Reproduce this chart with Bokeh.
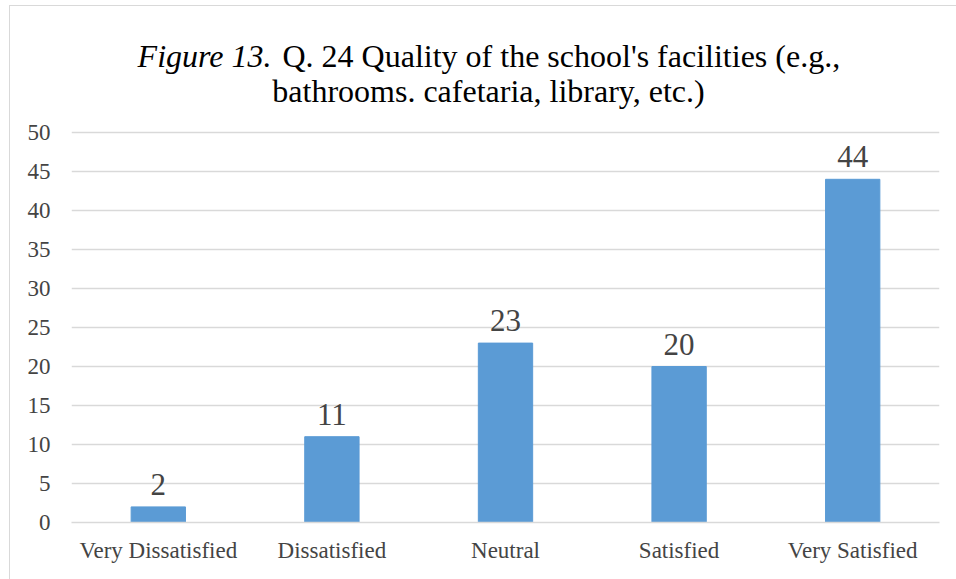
from bokeh.plotting import figure
from bokeh.layouts import column
from bokeh.models import ColumnDataSource, LabelSet, Label, FixedTicker
from bokeh.core.properties import value
from bokeh.embed import file_html
from bokeh.resources import INLINE

# Survey responses for Q. 24
categories = ["Very Dissatisfied", "Dissatisfied", "Neutral", "Satisfied", "Very Satisfied"]
counts = [2, 11, 23, 20, 44]
value_labels = [str(c) for c in counts]
y_ticks = [0, 5, 10, 15, 20, 25, 30, 35, 40, 45, 50]

TITLE_FONT = "Liberation Serif"
TEXT_FONT = "Times New Roman"
GRID = "#d9d9d9"
BAR = "#5b9bd5"

# the frame reaches the top of the canvas so the title can sit inside it;
# the value axis still spans 0..50 over the lower 390 px
FRAME_H = 516
AXIS_H = 390
y_top = y_ticks[-1] * FRAME_H / AXIS_H

source = ColumnDataSource(data=dict(cat=categories, count=counts, label=value_labels))

p = figure(
    x_range=categories,
    y_range=(0, y_top),
    width=946,
    height=573,
    output_backend="svg",
    toolbar_location=None,
    min_border_left=61,
    min_border_right=17,
    min_border_top=0,
    min_border_bottom=57,
)
p.outline_line_alpha = 0

p.vbar(x="cat", top="count", width=0.313, source=source, fill_color=BAR, line_color=BAR)

# value labels above each bar
p.add_layout(LabelSet(
    x="cat", y="count", text="label", source=source,
    y_offset=12, text_align="center",
    text_font=value(TEXT_FONT), text_font_size="31px",
))

# axes
p.yaxis.ticker = FixedTicker(ticks=y_ticks)
p.yaxis.axis_line_alpha = 0
p.yaxis.major_tick_in = 0
p.yaxis.major_tick_out = 0
p.yaxis.minor_tick_in = 0
p.yaxis.minor_tick_out = 0
p.yaxis.major_label_standoff = 21
p.yaxis.major_label_text_font = TEXT_FONT
p.yaxis.major_label_text_font_size = "23px"

p.xaxis.axis_line_color = GRID
p.xaxis.axis_line_width = 1.5
p.xaxis.major_tick_in = 0
p.xaxis.major_tick_out = 0
p.xaxis.minor_tick_in = 0
p.xaxis.minor_tick_out = 0
p.xaxis.major_label_standoff = 15
p.xaxis.major_label_text_font = TEXT_FONT
p.xaxis.major_label_text_font_size = "23px"

p.xgrid.grid_line_alpha = 0
p.ygrid.grid_line_color = GRID
p.ygrid.grid_line_width = 1.5

# two-line title with an italic figure number (screen offsets from the frame's lower-left)
p.add_layout(Label(
    x=200, y=467, x_units="screen", y_units="screen",
    text="Figure 13.", text_align="right", text_baseline="alphabetic",
    text_font=TITLE_FONT, text_font_style="italic", text_font_size="32px", text_color="black",
))
p.add_layout(Label(
    x=211, y=467, x_units="screen", y_units="screen",
    text="Q. 24 Quality of the school's facilities (e.g.,", text_align="left",
    text_baseline="alphabetic",
    text_font=TITLE_FONT, text_font_size="32px", text_color="black",
))
p.add_layout(Label(
    x=417, y=432, x_units="screen", y_units="screen",
    text="bathrooms. cafetaria, library, etc.)", text_align="center",
    text_baseline="alphabetic",
    text_font=TITLE_FONT, text_font_size="32px", text_color="black",
))

# thin chart-area border along the left and top edges
page = column(p, styles={
    "margin-left": "9px",
    "margin-top": "5px",
    "border-left": f"1px solid {GRID}",
    "border-top": f"1px solid {GRID}",
})

with open("out.html", "w") as f:
    f.write(file_html(page, INLINE))
